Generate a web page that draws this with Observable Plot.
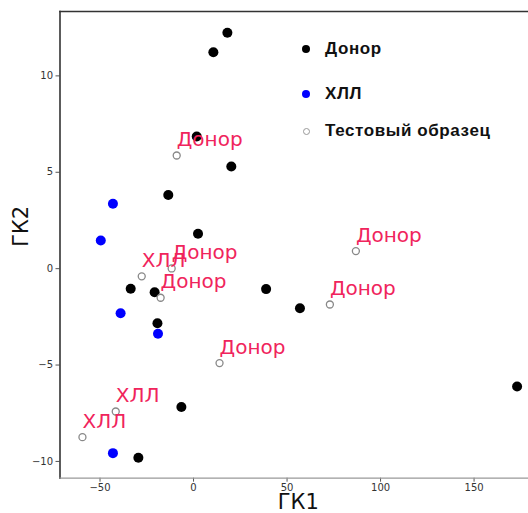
<!DOCTYPE html>
<html>
<head>
<meta charset="utf-8">
<script src="https://cdn.jsdelivr.net/npm/d3@7"></script>
<script src="https://cdn.jsdelivr.net/npm/@observablehq/plot@0.6"></script>
<style>
  html, body { margin: 0; padding: 0; background: #fff; }
  #wrap { position: relative; width: 528px; height: 513px; overflow: hidden; }
  #legend { position: absolute; left: 296px; top: 37px; font-family: "Liberation Sans", Arial, sans-serif; font-weight: bold; font-size: 17px; color: #111; letter-spacing: 0.6px; }
  .item { position: absolute; white-space: nowrap; height: 24px; line-height: 24px; }
  .mk { position: absolute; top: 12px; border-radius: 50%; box-sizing: border-box; }
  .lt { position: absolute; left: 29px; top: 0; }
</style>
</head>
<body>
<div id="wrap"></div>
<script>
// Донор (black)
const donorX = [18.1, 10.6, 1.7, 20.2, -13.5, 2.4, -33.6, -20.8, -19.3, 38.8, 56.9, -6.5, -29.5, 173.0];
const donorY = [12.24, 11.23, 6.86, 5.30, 3.82, 1.81, -1.04, -1.22, -2.83, -1.06, -2.05, -7.18, -9.81, -6.11];
// ХЛЛ (blue)
const cllX = [-43.1, -49.6, -39.0, -19.0, -43.1];
const cllY = [3.37, 1.46, -2.31, -3.38, -9.57];
// Тестовый образец (open) with predicted labels
const testX = [-9.0, -27.7, -11.7, -17.6, 86.8, 72.9, 13.9, -41.6, -59.4];
const testY = [5.87, -0.40, 0.01, -1.51, 0.91, -1.86, -4.90, -7.41, -8.74];
const testLabels = ["Донор", "ХЛЛ", "Донор", "Донор", "Донор", "Донор", "Донор", "ХЛЛ", "ХЛЛ"];

const xTicks = [-50, 0, 50, 100, 150];
const yTicks = [-10, -5, 0, 5, 10];
const xLabel = "ГК1";
const yLabel = "ГК2";
const legendNames = ["Донор", "ХЛЛ", "Тестовый образец"];

const donor = donorX.map((x, i) => ({x, y: donorY[i]}));
const cll = cllX.map((x, i) => ({x, y: cllY[i]}));
const test = testX.map((x, i) => ({x, y: testY[i], label: testLabels[i]}));

const chart = Plot.plot({
  width: 528,
  height: 513,
  marginLeft: 59.5,
  marginRight: 0,
  marginTop: 11,
  marginBottom: 35.3,
  style: {fontFamily: "DejaVu Sans, sans-serif", fontSize: "10px", color: "#333", background: "white"},
  x: {domain: [-71.4, 179.1]},
  y: {domain: [-10.87, 13.34]},
  marks: [
    Plot.axisX(xTicks, {tickSize: 4, tickPadding: 2, label: null, fontSize: 10, stroke: "#555"}),
    Plot.axisY(yTicks, {tickSize: 4, tickPadding: 3, label: null, fontSize: 10, stroke: "#555"}),
    Plot.frame({anchor: "left", stroke: "#333", strokeWidth: 1.6}),
    Plot.frame({anchor: "top", stroke: "#333", strokeWidth: 1.6}),
    Plot.frame({anchor: "bottom", stroke: "#999", strokeWidth: 1.2}),
    Plot.dot(donor, {x: "x", y: "y", r: 5, fill: "black"}),
    Plot.dot(cll, {x: "x", y: "y", r: 5, fill: "#0000ff"}),
    Plot.dot(test, {x: "x", y: "y", r: 3.5, stroke: "#888", strokeWidth: 1.3, fill: "white"}),
    Plot.text(test, {x: "x", y: "y", text: "label", textAnchor: "start", dx: 0, dy: -16, fill: "#f0245c", fontSize: 20, fontFamily: "DejaVu Sans, sans-serif", letterSpacing: 0.6}),
    Plot.text([xLabel], {frameAnchor: "bottom", dx: 4, dy: 31, fontSize: 21, fill: "#111"}),
    Plot.text([yLabel], {frameAnchor: "left", dx: -39, dy: 2, rotate: -90, fontSize: 21, fill: "#111"})
  ]
});
const wrap = document.getElementById("wrap");
wrap.appendChild(chart);

// legend overlay
const legendStyles = [
  {fill: "black", border: "none", size: 8},
  {fill: "#0000ff", border: "none", size: 8},
  {fill: "white", border: "1.2px solid #999", size: 7}
];
const lg = document.createElement("div");
lg.id = "legend";
const tops = [0, 45, 82];
legendNames.forEach((name, i) => {
  const it = document.createElement("div");
  it.className = "item";
  it.style.top = tops[i] + "px";
  const mk = document.createElement("span");
  mk.className = "mk";
  const s = legendStyles[i];
  mk.style.width = s.size + "px";
  mk.style.height = s.size + "px";
  mk.style.left = (10 - s.size / 2) + "px";
  mk.style.marginTop = (-s.size / 2) + "px";
  mk.style.background = s.fill;
  mk.style.border = s.border;
  const t = document.createElement("span");
  t.className = "lt";
  t.textContent = name;
  it.appendChild(mk);
  it.appendChild(t);
  lg.appendChild(it);
});
wrap.appendChild(lg);
</script>
</body>
</html>
